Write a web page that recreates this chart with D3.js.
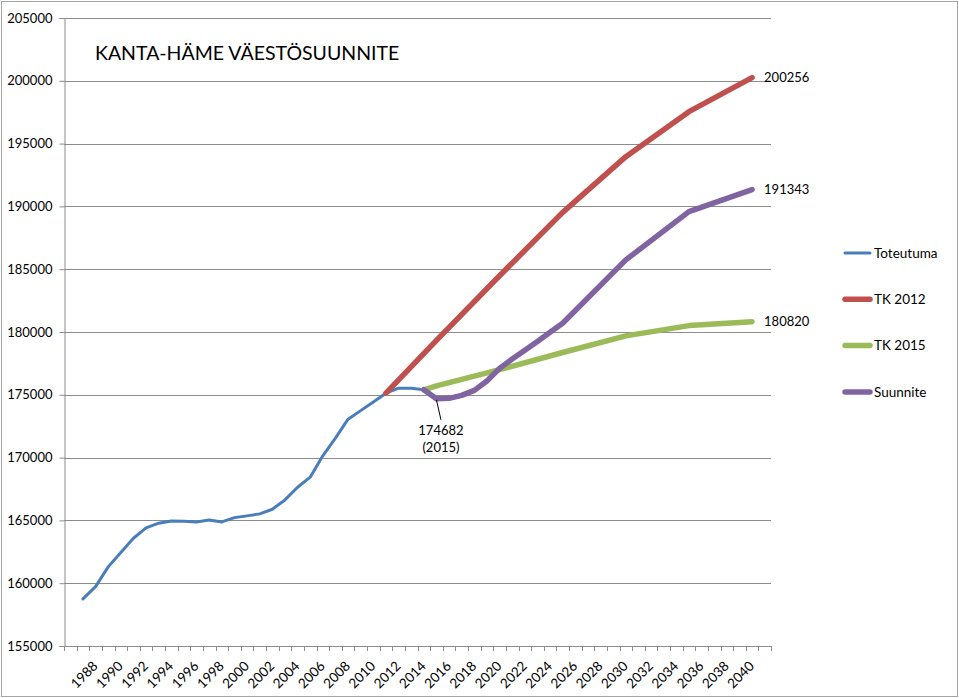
<!DOCTYPE html>
<html>
<head>
<meta charset="utf-8">
<script src="https://cdn.jsdelivr.net/npm/d3@7"></script>
<style>
  html, body { margin: 0; padding: 0; background: #fff; }
  svg { display: block; font-family: Lato, "Open Sans", sans-serif; }
</style>
</head>
<body>
<div id="chart"></div>
<script>
// categories on the x axis (only even years get a label)
const categories = [1986, 1987, 1988, 1989, 1990, 1991, 1992, 1993, 1994, 1995,
  1996, 1997, 1998, 1999, 2000, 2001, 2002, 2003, 2004, 2005, 2006, 2007, 2008,
  2009, 2010, 2011, 2012, 2013, 2014, 2015, 2016, 2017, 2018, 2019, 2020, 2021,
  2022, 2023, 2024, 2025, 2026, 2027, 2028, 2029, 2030, 2031, 2032, 2033, 2034,
  2035, 2036, 2037, 2038, 2039, 2040, 2041];
const tickLabels = [1988, 1990, 1992, 1994, 1996, 1998, 2000, 2002, 2004, 2006,
  2008, 2010, 2012, 2014, 2016, 2018, 2020, 2022, 2024, 2026, 2028, 2030, 2032,
  2034, 2036, 2038, 2040];
const yTicks = [155000, 160000, 165000, 170000, 175000, 180000, 185000, 190000, 195000, 200000, 205000];

const toteutumaYears = [1987, 1988, 1989, 1990, 1991, 1992, 1993, 1994, 1995, 1996,
  1997, 1998, 1999, 2000, 2001, 2002, 2003, 2004, 2005, 2006, 2007, 2008, 2009,
  2010, 2011, 2012, 2013, 2014];
const toteutuma = [158750, 159730, 161300, 162440, 163580, 164400, 164780, 164960,
  164930, 164880, 165040, 164880, 165220, 165360, 165520, 165890, 166630, 167640,
  168440, 170140, 171550, 173060, 173740, 174430, 175130, 175530, 175520, 175400];

const tk2012Years = [2011, 2015, 2020, 2025, 2030, 2035, 2040];
const tk2012 = [175130, 179340, 184480, 189520, 193960, 197540, 200256];

const tk2015Years = [2014, 2015, 2020, 2025, 2030, 2035, 2040];
const tk2015 = [175400, 175710, 177000, 178370, 179690, 180510, 180820];

const suunniteYears = [2014, 2015, 2016, 2017, 2018, 2019, 2020, 2021, 2022, 2023,
  2024, 2025, 2030, 2035, 2040];
const suunnite = [175400, 174682, 174720, 174950, 175350, 176100, 177100, 177850,
  178550, 179250, 179980, 180700, 185740, 189580, 191343];

const W = 959, H = 698;
const L = 64, R = 771, T = 18, B = 646;
const GRID = '#8c8c8c';

const svg = d3.select('#chart').append('svg')
  .attr('width', W)
  .attr('height', H);

// outer chart border
svg.append('rect')
  .attr('x', 1.5).attr('y', 1.5)
  .attr('width', W - 3).attr('height', H - 3)
  .attr('fill', '#fff')
  .attr('stroke', '#a6a6a6');

const x = d3.scaleBand().domain(categories).range([L, R]);
const cx = d => x(d) + x.bandwidth() / 2;
const y = d3.scaleLinear().domain([155000, 205000]).range([B, T]);

// horizontal gridlines
svg.append('g')
  .selectAll('line')
  .data(yTicks.slice(1))
  .enter()
  .append('line')
  .attr('x1', L).attr('x2', R)
  .attr('y1', d => Math.round(y(d)) + 0.5)
  .attr('y2', d => Math.round(y(d)) + 0.5)
  .attr('stroke', GRID);

// y axis
const yAxis = svg.append('g')
  .attr('transform', `translate(${L + 0.5},0)`)
  .call(d3.axisLeft(y).tickValues(yTicks).tickSize(5).tickPadding(7).tickFormat(d3.format('d')));
yAxis.select('.domain').attr('stroke', GRID);
yAxis.selectAll('.tick line').attr('stroke', GRID);
yAxis.selectAll('text').attr('font-size', 13).attr('fill', '#000')
  .attr('font-family', 'Lato, sans-serif');

// x axis: line, ticks between categories, rotated labels
const xAxis = svg.append('g');
xAxis.append('line')
  .attr('x1', L).attr('x2', R)
  .attr('y1', B + 0.5).attr('y2', B + 0.5)
  .attr('stroke', GRID);
xAxis.selectAll('line.tk')
  .data(categories.concat([null]))
  .enter()
  .append('line')
  .attr('class', 'tk')
  .attr('x1', (d, i) => Math.round(L + i * x.bandwidth()) + 0.5)
  .attr('x2', (d, i) => Math.round(L + i * x.bandwidth()) + 0.5)
  .attr('y1', B).attr('y2', B + 5)
  .attr('stroke', GRID);
xAxis.selectAll('text')
  .data(tickLabels)
  .enter()
  .append('text')
  .attr('transform', d => `translate(${cx(d) + 3},${B + 21}) rotate(-45)`)
  .attr('text-anchor', 'end')
  .attr('font-size', 13.5)
  .text(d => d);

// series
const line = curve => d3.line()
  .x(d => cx(d[0]))
  .y(d => y(d[1]))
  .curve(curve);

const series = [
  { name: 'Toteutuma', years: toteutumaYears, values: toteutuma, color: '#4a7ebb', width: 3, curve: d3.curveLinear },
  { name: 'TK 2012', years: tk2012Years, values: tk2012, color: '#c0504d', width: 5.5, curve: d3.curveLinear },
  { name: 'TK 2015', years: tk2015Years, values: tk2015, color: '#9bbb59', width: 5.5, curve: d3.curveLinear },
  { name: 'Suunnite', years: suunniteYears, values: suunnite, color: '#8064a2', width: 5.5, curve: d3.curveLinear }
];

svg.append('g')
  .selectAll('path')
  .data(series)
  .enter()
  .append('path')
  .attr('d', s => line(s.curve)(s.years.map((yr, i) => [yr, s.values[i]])))
  .attr('fill', 'none')
  .attr('stroke', s => s.color)
  .attr('stroke-width', s => s.width)
  .attr('stroke-linecap', 'round')
  .attr('stroke-linejoin', 'round');

// end value labels
const endLabels = [tk2012, suunnite, tk2015].map(v => v[v.length - 1]);
svg.append('g')
  .selectAll('text')
  .data(endLabels)
  .enter()
  .append('text')
  .attr('x', cx(2040) + 12)
  .attr('y', d => y(d))
  .attr('dy', '0.35em')
  .attr('font-size', 13)
  .text(d => d);

// annotation for the 2015 dip
const minVal = suunnite[suunniteYears.indexOf(2015)];
svg.append('line')
  .attr('x1', cx(2015)).attr('y1', y(minVal) + 1)
  .attr('x2', cx(2015) + 4.5).attr('y2', y(minVal) + 21)
  .attr('stroke', '#000');
svg.append('text')
  .attr('x', cx(2015) + 4.5)
  .attr('y', y(minVal) + 36)
  .attr('text-anchor', 'middle')
  .attr('font-size', 13)
  .text(minVal);
svg.append('text')
  .attr('x', cx(2015) + 4.5)
  .attr('y', y(minVal) + 53)
  .attr('text-anchor', 'middle')
  .attr('font-size', 13)
  .text('(2015)');

// title
svg.append('text')
  .attr('x', 95)
  .attr('y', 60)
  .attr('font-size', 19.5)
  .text('KANTA-HÄME VÄESTÖSUUNNITE');

// legend
const legend = svg.append('g')
  .selectAll('g')
  .data(series)
  .enter()
  .append('g')
  .attr('transform', (d, i) => `translate(843,${253 + i * 46.3})`);
legend.append('line')
  .attr('x1', 2).attr('x2', 27)
  .attr('stroke', d => d.color)
  .attr('stroke-width', d => d.width)
  .attr('stroke-linecap', 'round');
legend.append('text')
  .attr('x', 31)
  .attr('dy', '0.35em')
  .attr('font-size', 13.5)
  .text(d => d.name);
</script>
</body>
</html>
